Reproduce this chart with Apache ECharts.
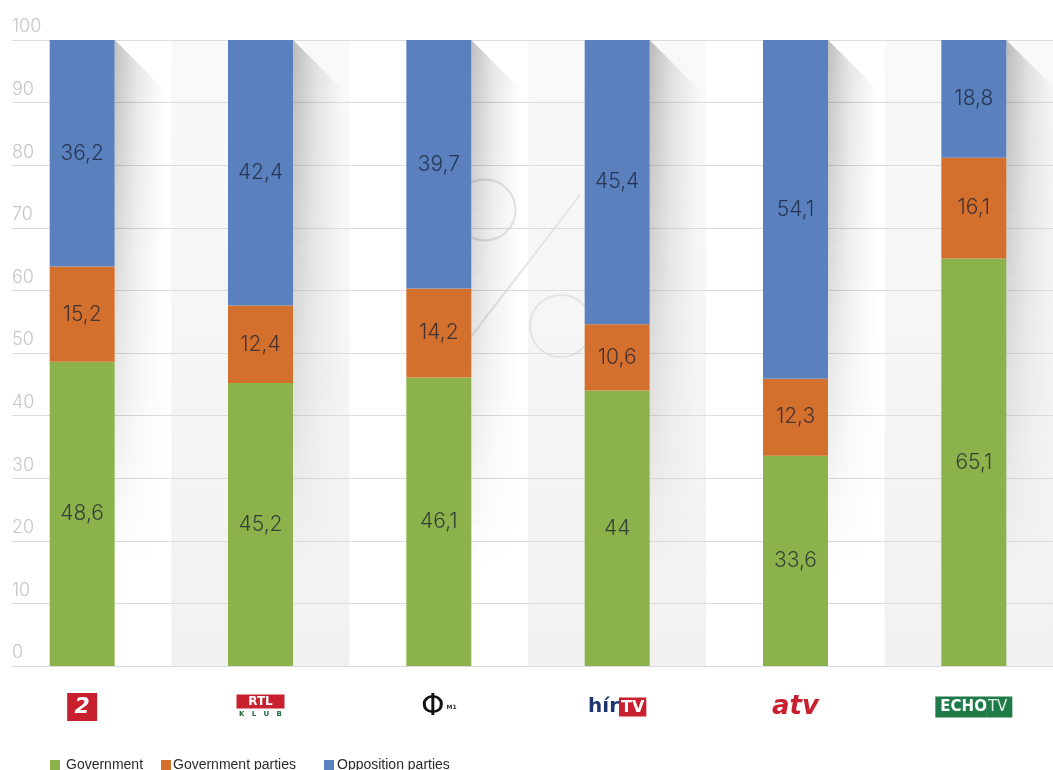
<!DOCTYPE html>
<html>
<head>
<meta charset="utf-8">
<script src="https://cdn.jsdelivr.net/npm/echarts@6/dist/echarts.min.js"></script>
<style>
html,body{margin:0;padding:0;background:#fff;}
#chart{width:1053px;height:770px;}
</style>
</head>
<body>
<div id="chart"></div>
<script>
const categories = ['TV2', 'RTL Klub', 'M1', 'HírTV', 'ATV', 'Echo TV'];
const seriesNames = ['Government', 'Government parties', 'Opposition parties'];
const government = [48.6, 45.2, 46.1, 44, 33.6, 65.1];
const governmentParties = [15.2, 12.4, 14.2, 10.6, 12.3, 16.1];
const oppositionParties = [36.2, 42.4, 39.7, 45.4, 54.1, 18.8];
const yTicks = { min: 0, max: 100, interval: 10 };

const COLORS = ['#8bb24b', '#d3702d', '#5a81bd'];
const BAR_W = 65;
const NUM_FONT = 'Inter';

const chart = echarts.init(document.getElementById('chart'));

const logoFormatter = function (v) {
  switch (v) {
    case 'TV2': return '{tv2|2}';
    case 'RTL Klub': return '{rtl|RTL}\n{klub|K   L   U   B}';
    case 'M1': return '{phi|Φ}{m1| M1}';
    case 'HírTV': return '{hir|hír}{hirtv|TV}';
    case 'ATV': return '{atv|atv}';
    case 'Echo TV': return '{echo|ECHO}{echotv|TV}';
  }
  return v;
};

function shadowItem(params, api) {
  const i = api.value(0);
  const top = api.coord([i, yTicks.max]);
  const bot = api.coord([i, yTicks.min]);
  const xr = top[0] + BAR_W / 2;
  const y0 = top[1], y1 = bot[1];
  const H = y1 - y0;
  const W = 50;
  const N = 40;
  const children = [];
  for (let k = 0; k < N; k++) {
    const ya = Math.round(y0 + H * k / N);
    const yb = Math.round(y0 + H * (k + 1) / N);
    const mid = (ya + yb) / 2 - y0;
    const a = 0.25 * Math.max(0, 1 - mid / (H * 0.85));
    if (a <= 0.002) continue;
    const pts = [[xr, ya]];
    pts.push([xr + Math.min(W, ya - y0), ya]);
    if (ya - y0 < W && yb - y0 > W) pts.push([xr + W, y0 + W]);
    pts.push([xr + Math.min(W, yb - y0), yb]);
    pts.push([xr, yb]);
    children.push({
      type: 'polygon',
      shape: { points: pts },
      style: {
        fill: {
          type: 'linear', x: xr, y: 0, x2: xr + W, y2: 0, global: true,
          colorStops: [
            { offset: 0, color: 'rgba(0,0,0,' + a + ')' },
            { offset: 0.45, color: 'rgba(0,0,0,' + (a * 0.4) + ')' },
            { offset: 1, color: 'rgba(0,0,0,0)' }
          ]
        }
      }
    });
  }
  return { type: 'group', children: children };
}

const labelStyle = {
  show: true,
  position: 'inside',
  fontFamily: NUM_FONT,
  fontWeight: 300,
  fontSize: 21,
  color: 'rgba(22,28,48,0.75)',
  formatter: p => String(p.value).replace('.', ',')
};

const dataSets = [government, governmentParties, oppositionParties];

const option = {
  backgroundColor: '#ffffff',
  animation: false,
  grid: [
    { left: -7, right: -10, top: 40, bottom: 104, outerBoundsMode: 'none', containLabel: false },
    { left: 12, right: 0, top: 40, bottom: 104, outerBoundsMode: 'none', containLabel: false }
  ],
  xAxis: [
    {
      type: 'category', gridIndex: 0, data: categories, z: 0,
      axisLine: { show: false }, axisTick: { show: false, interval: 0 },
      splitArea: {
        show: true, interval: 0,
        areaStyle: {
          color: [
            '#ffffff',
            { type: 'linear', x: 0, y: 0, x2: 0, y2: 1, colorStops: [{ offset: 0, color: '#f9f9f9' }, { offset: 1, color: '#f1f1f1' }] }
          ]
        }
      },
      axisLabel: {
        interval: 0, margin: 41, verticalAlign: 'middle', formatter: logoFormatter,
        rich: {
          tv2: { backgroundColor: '#c8202e', color: '#fff', fontFamily: 'DejaVu Sans', fontWeight: 'bold', fontStyle: 'italic', fontSize: 22, width: 30, height: 28, align: 'center', lineHeight: 28 },
          rtl: { backgroundColor: '#c8202e', color: '#fff', fontFamily: 'DejaVu Sans', fontWeight: 'bold', fontSize: 12, width: 48, height: 14, align: 'center', lineHeight: 14 },
          klub: { color: '#1f6b3a', fontFamily: 'DejaVu Sans', fontWeight: 'bold', fontSize: 7, width: 48, align: 'center', lineHeight: 11 },
          phi: { color: '#111', fontFamily: 'DejaVu Sans', fontWeight: 'normal', fontSize: 30, lineHeight: 32 },
          m1: { color: '#333', fontFamily: 'DejaVu Sans', fontWeight: 'bold', fontSize: 6 },
          hir: { color: '#1d3470', fontFamily: 'DejaVu Sans', fontWeight: 'bold', fontSize: 20 },
          hirtv: { backgroundColor: '#c8202e', color: '#fff', fontFamily: 'DejaVu Sans', fontWeight: 'bold', fontSize: 16, padding: [2, 2, 1, 2] },
          atv: { color: '#c8202e', fontFamily: 'DejaVu Sans', fontWeight: 'bold', fontStyle: 'italic', fontSize: 26 },
          echo: { backgroundColor: '#1e7a46', color: '#fff', fontFamily: 'DejaVu Sans', fontWeight: 'bold', fontSize: 15, padding: [3, 0, 3, 5] },
          echotv: { backgroundColor: '#1e7a46', color: '#dfeee4', fontFamily: 'DejaVu Sans', fontWeight: 'normal', fontSize: 15, padding: [3, 5, 3, 1] }
        }
      }
    },
    { type: 'value', gridIndex: 1, show: false, min: 0, max: 1 }
  ],
  yAxis: [
    { type: 'value', gridIndex: 0, min: yTicks.min, max: yTicks.max, interval: yTicks.interval, show: false },
    {
      type: 'value', gridIndex: 1, min: yTicks.min, max: yTicks.max, interval: yTicks.interval, z: 1,
      axisLine: { show: false }, axisTick: { show: false },
      splitLine: { show: true, lineStyle: { color: '#dcdcdc', width: 1 } },
      axisLabel: {
        inside: true, margin: 0, verticalAlign: 'bottom', padding: [0, 0, 4, 0],
        fontFamily: NUM_FONT, fontWeight: 300, fontSize: 18, color: '#c6c6c6'
      }
    }
  ],
  graphic: [
    { type: 'circle', z: 1, silent: true, shape: { cx: 485, cy: 210, r: 30.5 }, style: { fill: 'none', stroke: '#e4e4e4', lineWidth: 2 } },
    { type: 'circle', z: 1, silent: true, shape: { cx: 561, cy: 326, r: 31 }, style: { fill: 'none', stroke: '#e4e4e4', lineWidth: 2 } },
    { type: 'line', z: 1, silent: true, shape: { x1: 470, y1: 338, x2: 580, y2: 195 }, style: { stroke: '#e4e4e4', lineWidth: 2 } }
  ],
  legend: seriesNames.map((n, i) => ({
    data: [n],
    left: [50, 161, 324][i],
    top: 758,
    padding: 0,
    itemWidth: 10, itemHeight: 10, icon: 'rect',
    textStyle: { fontFamily: 'Liberation Sans', fontSize: 14, color: '#2a2a2a', padding: [0, 0, 0, [1, -3, -2][i]] },
    selectedMode: false
  })),
  series: [
    {
      type: 'custom', name: 'shadow', xAxisIndex: 0, yAxisIndex: 0, z: 1, silent: true,
      renderItem: shadowItem,
      data: categories.map((c, i) => [i, yTicks.max])
    }
  ].concat(seriesNames.map((n, i) => ({
    name: n,
    type: 'bar',
    stack: 'total',
    xAxisIndex: 0, yAxisIndex: 0,
    barWidth: BAR_W,
    z: 3,
    itemStyle: { color: COLORS[i] },
    label: labelStyle,
    data: dataSets[i]
  })))
};

chart.setOption(option);
</script>
</body>
</html>
